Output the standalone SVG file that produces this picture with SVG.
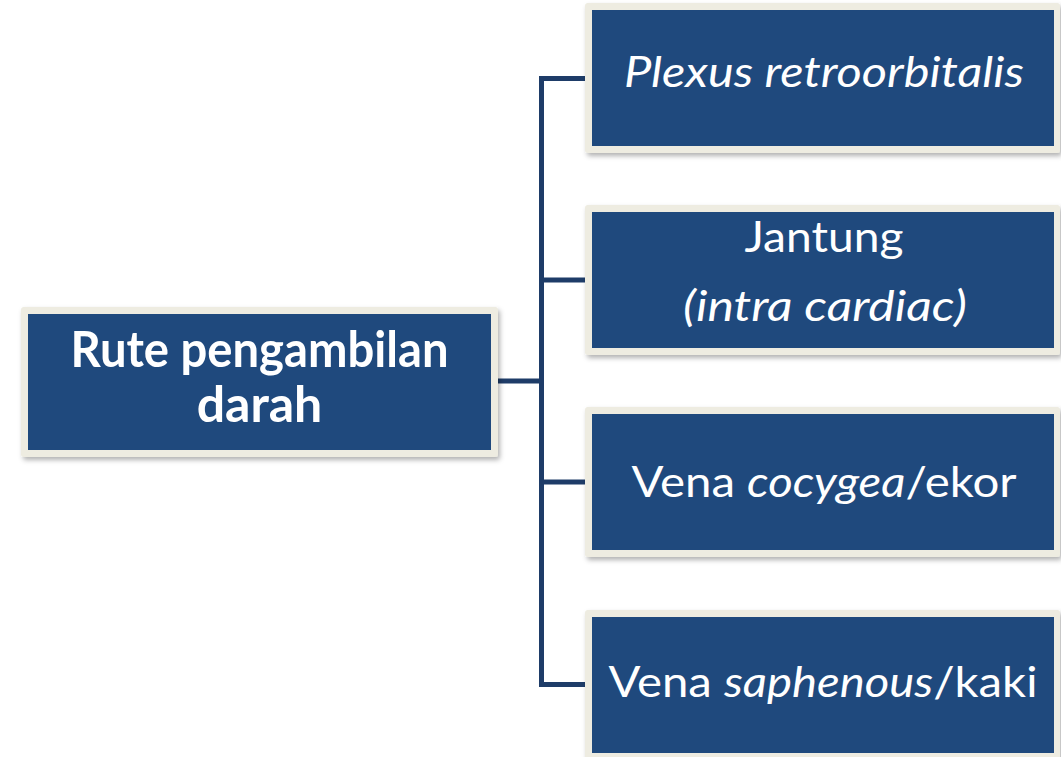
<svg xmlns="http://www.w3.org/2000/svg" width="1061" height="757" viewBox="0 0 1061 757">
  <defs>
    <filter id="shadow" x="-5%" y="-5%" width="112%" height="115%">
      <feDropShadow dx="2" dy="3" stdDeviation="2.5" flood-color="#000" flood-opacity="0.3"/>
    </filter>
    <style>
      .frame { fill: #EEECE1; filter: url(#shadow); }
      .panel { fill: #1F497D; }
      .link { fill: none; stroke: #1E3C68; stroke-width: 5; stroke-linejoin: miter; stroke-linecap: butt; }
      .lbl { font-family: Lato, "Open Sans", "Liberation Sans", sans-serif; fill: #FFFFFF; text-anchor: middle; }
      .root { font-size: 50px; font-weight: bold; }
      .leaf { font-size: 42px; }
      .it { font-style: italic; }
    </style>
  </defs>
  <rect width="1061" height="757" fill="#FFFFFF"/>

  <!-- connectors: trunk from the root box to the four branches -->
  <g id="connectors">
    <path class="link" d="M498,381 H541.5"/>
    <path class="link" d="M587,78.5 H541.5 V684.5 H587"/>
    <path class="link" d="M541.5,280 H587"/>
    <path class="link" d="M541.5,482 H587"/>
  </g>

  <g id="root">
    <rect class="frame" x="21" y="307" width="477" height="150" rx="3"/>
    <rect class="panel" x="28" y="314" width="463" height="136"/>
    <text class="lbl root" x="259.5" y="367" textLength="378" lengthAdjust="spacingAndGlyphs">Rute pengambilan</text>
    <text class="lbl root" x="259.5" y="422">darah</text>
  </g>

  <g id="plexus">
    <rect class="frame" x="585" y="3" width="475" height="150" rx="3"/>
    <rect class="panel" x="592" y="10" width="462" height="136"/>
    <text class="lbl leaf it" x="824" y="87" textLength="400" lengthAdjust="spacingAndGlyphs">Plexus retroorbitalis</text>
  </g>

  <g id="jantung">
    <rect class="frame" x="585" y="205" width="475" height="150" rx="3"/>
    <rect class="panel" x="592" y="212" width="462" height="136"/>
    <text class="lbl leaf" x="824" y="252" textLength="159" lengthAdjust="spacingAndGlyphs">Jantung</text>
    <text class="lbl leaf it" x="825" y="321" textLength="284" lengthAdjust="spacingAndGlyphs">(intra cardiac)</text>
  </g>

  <g id="cocygea">
    <rect class="frame" x="585" y="407" width="475" height="150" rx="3"/>
    <rect class="panel" x="592" y="414" width="462" height="136"/>
    <text class="lbl leaf" x="824" y="497" textLength="385" lengthAdjust="spacingAndGlyphs">Vena <tspan class="it">cocygea</tspan>/ekor</text>
  </g>

  <g id="saphenous">
    <rect class="frame" x="585" y="610" width="475" height="150" rx="3"/>
    <rect class="panel" x="592" y="617" width="462" height="136"/>
    <text class="lbl leaf" x="823" y="697" textLength="429" lengthAdjust="spacingAndGlyphs">Vena <tspan class="it">saphenous</tspan>/kaki</text>
  </g>
</svg>
